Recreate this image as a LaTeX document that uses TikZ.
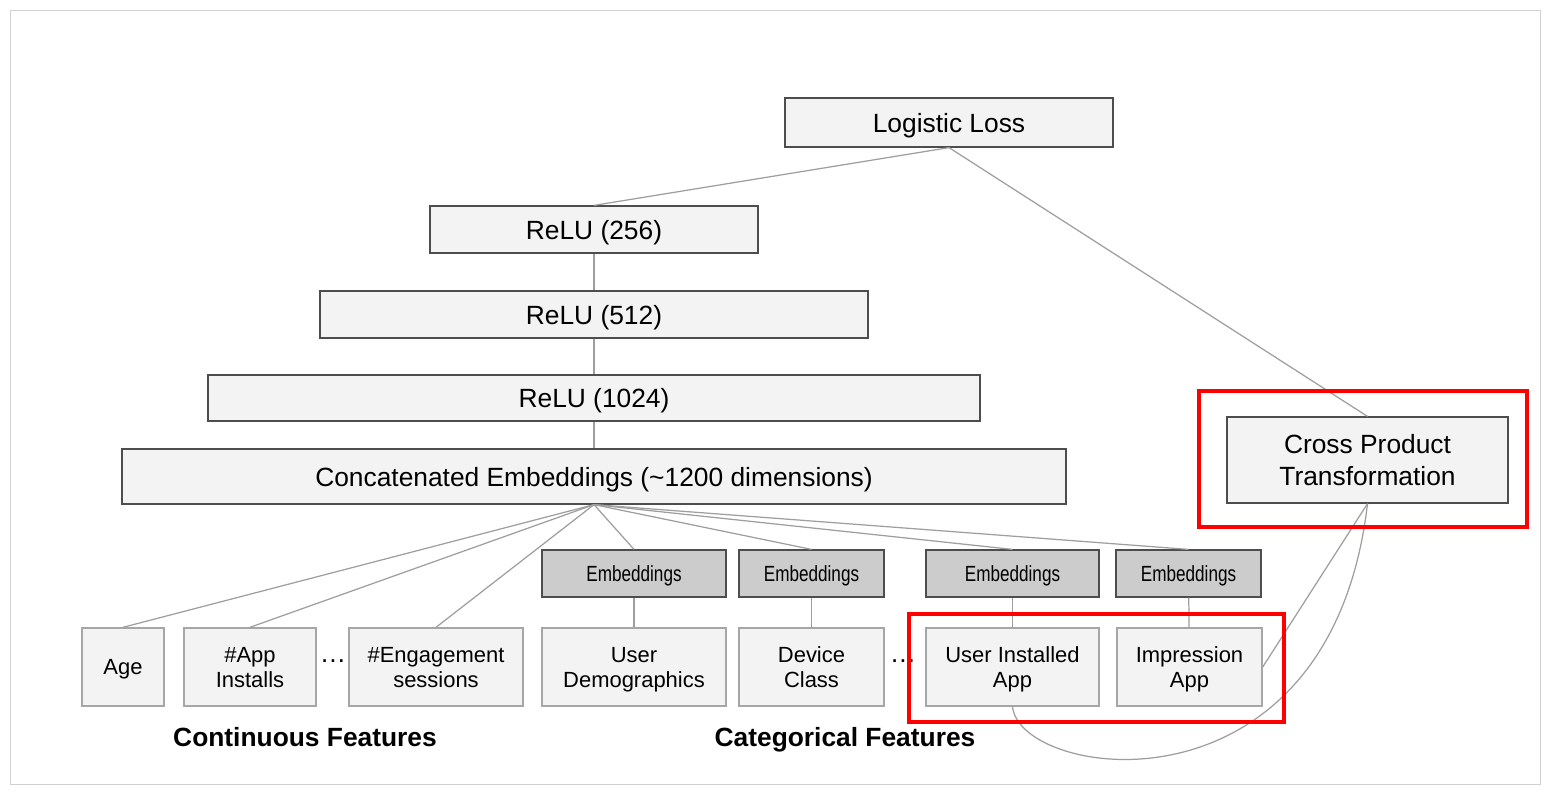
\documentclass[tikz,border=0pt]{standalone}
\usepackage{fontspec}
\setmainfont{Liberation Sans}
\newfontfamily\embfont{Liberation Sans}[FakeStretch=0.78]
\usepackage{xcolor}
\usepackage{tikz}
\definecolor{boxfill}{HTML}{F3F3F3}
\definecolor{boxline}{HTML}{4D4D4D}
\definecolor{featline}{HTML}{A6A6A6}
\definecolor{embfill}{HTML}{CCCCCC}
\definecolor{wiregray}{HTML}{9E9E9E}
\definecolor{hlred}{HTML}{FF0000}
\usetikzlibrary{positioning, shadows}

\begin{document}
\begin{tikzpicture}[
    x=0.02cm, y=-0.02cm,
    layer/.style={rectangle, draw=boxline, fill=boxfill, line width=0.7pt, inner sep=0pt, minimum height=0.94cm, text depth=0pt, align=center, font=\fontsize{15}{18}\selectfont},
    emb/.style={rectangle, draw=boxline, fill=embfill, line width=0.7pt, inner sep=0pt, minimum height=0.94cm, text depth=0pt, font=\embfont\fontsize{12.5}{14}\selectfont},
    feat/.style={rectangle, draw=featline, fill=boxfill, line width=0.8pt, inner sep=0pt, minimum height=1.56cm, text depth=0pt, align=center, font=\fontsize{12.5}{14.2}\selectfont},
    grouplabel/.style={text depth=0pt, font=\bfseries\fontsize{15}{18}\selectfont},
    wire/.style={draw=wiregray, line width=0.7pt},
    hl/.style={draw=hlred, line width=2.3pt}
]
    \useasboundingbox (0,0) rectangle (1550,794);
    \draw[draw=black!18, fill=white, drop shadow={shadow xshift=0.6pt, shadow yshift=-0.6pt, opacity=0.3}] (10,10) rectangle (1540,784);

    \node[layer, minimum width=6.56cm, minimum height=0.98cm] (loss) at (949,122.5) {Logistic Loss};
    \node[layer, minimum width=6.56cm] (relu256) at (594,229.5) {ReLU (256)};
    \node[layer, minimum width=10.96cm] (relu512) at (594,314.5) {ReLU (512)};
    \node[layer, minimum width=15.44cm, minimum height=0.92cm] (relu1024) at (594,398) {ReLU (1024)};
    \node[layer, minimum width=18.88cm, minimum height=1.1cm] (concat) at (594,476.5) {Concatenated Embeddings (\textasciitilde1200 dimensions)};
    \node[layer, minimum width=5.62cm, minimum height=1.72cm, font=\fontsize{15}{18.2}\selectfont] (cross) at (1367.5,460) {Cross Product\\Transformation};

    \node[emb, minimum width=3.68cm] (embdemo) at (634,573.5) {Embeddings};
    \node[emb, minimum width=2.9cm] (embdevice) at (811.5,573.5) {Embeddings};
    \node[emb, minimum width=3.46cm] (embinstalled) at (1012.5,573.5) {Embeddings};
    \node[emb, minimum width=2.9cm] (embimpression) at (1188.5,573.5) {Embeddings};

    \node[feat, minimum width=1.64cm] (age) at (123,667) {Age};
    \node[feat, minimum width=2.64cm] (installs) at (250,667) {\#App\\Installs};
    \node[feat, minimum width=3.48cm] (sessions) at (436,667) {\#Engagement\\sessions};
    \node[feat, minimum width=3.68cm] (demo) at (634,667) {User\\Demographics};
    \node[feat, minimum width=2.9cm] (device) at (811.5,667) {Device\\Class};
    \node[feat, minimum width=3.46cm] (installed) at (1012.5,667) {User Installed\\App};
    \node[feat, minimum width=2.9cm] (impression) at (1189.5,667) {Impression\\App};

    \node[font=\fontsize{15}{18}\selectfont] (dotsa) at (333,661) {\dots};
    \node[font=\fontsize{15}{18}\selectfont] (dotsb) at (903,661) {\dots};

    \node[grouplabel] (contlabel) at (305,737) {Continuous Features};
    \node[grouplabel] (catlabel) at (845,737) {Categorical Features};

    \draw[wire] (loss.south) -- (relu256.north);
    \draw[wire] (loss.south) -- (cross.north);
    \draw[wire] (relu256) -- (relu512);
    \draw[wire] (relu512) -- (relu1024);
    \draw[wire] (relu1024) -- (concat);
    \foreach \f in {age, installs, sessions, embdemo, embdevice, embinstalled, embimpression}
        \draw[wire] (concat.south) -- (\f.north);
    \draw[wire] (embdemo) -- (demo);
    \draw[wire] (embdevice) -- (device);
    \draw[wire] (embinstalled) -- (installed);
    \draw[wire] (embimpression) -- (impression);
    \draw[wire] (cross.south) -- (impression.east);
    \draw[wire] (installed.south) .. controls (1020,780) and (1330,825) .. (cross.south);

    \draw[hl] (1199,391) rectangle (1527,527);
    \draw[hl] (909,614) rectangle (1284,722);
\end{tikzpicture}
\end{document}
